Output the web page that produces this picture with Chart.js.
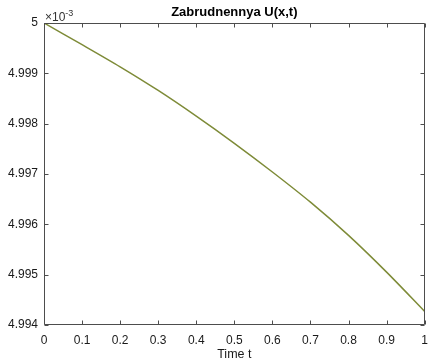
<!DOCTYPE html>
<html>
<head>
<meta charset="utf-8">
<script src="https://cdn.jsdelivr.net/npm/chart.js@4.4.1/dist/chart.umd.min.js"></script>
<style>
  html, body { margin: 0; padding: 0; background: #fff; overflow: hidden; width: 428px; height: 362px; }
  #wrap { width: 436px; height: 362px; }
</style>
</head>
<body>
<div id="wrap"><canvas id="c" width="436" height="362"></canvas></div>
<script>
// Time samples and concentration U (in units of 1e-3)
const timeT = [0, 0.1, 0.2, 0.3, 0.4, 0.5, 0.6, 0.7, 0.8, 0.9, 1.0];
const concentration = [5.00000, 4.99957, 4.99913, 4.99866, 4.99815, 4.99761, 4.99704, 4.99644, 4.99578, 4.99505, 4.99427];

// Axis ticks
const xTicks = [0, 0.1, 0.2, 0.3, 0.4, 0.5, 0.6, 0.7, 0.8, 0.9, 1];
const yTicks = [4.994, 4.995, 4.996, 4.997, 4.998, 4.999, 5];
const yExponent = '-3';

const FONT = "'Liberation Sans', Arial, Helvetica, sans-serif";
const AXIS_COLOR = '#4d4d4d';
const TEXT_COLOR = '#1a1a1a';

const points = timeT.map((t, i) => ({ x: t, y: concentration[i] }));

function fmt(v) { return String(Number(v.toFixed(3))); }

// Boxed axes with inward ticks on all four sides, plus the y exponent label
const boxAxes = {
  id: 'boxAxes',
  afterDraw(chart) {
    const { ctx, chartArea: a, scales } = chart;
    const L = Math.round(a.left) + 0.5, R = Math.round(a.right) - 0.5;
    const T = Math.round(a.top) + 0.5, B = Math.round(a.bottom) - 0.5;
    const len = 4;
    ctx.save();
    ctx.strokeStyle = AXIS_COLOR;
    ctx.lineWidth = 1;
    ctx.beginPath();
    ctx.rect(L, T, R - L, B - T);
    scales.x.ticks.forEach(tk => {
      const px = Math.round(scales.x.getPixelForValue(tk.value)) + 0.5;
      ctx.moveTo(px, B); ctx.lineTo(px, B - len);
      ctx.moveTo(px, T); ctx.lineTo(px, T + len);
    });
    scales.y.ticks.forEach(tk => {
      const py = Math.round(scales.y.getPixelForValue(tk.value)) + 0.5;
      ctx.moveTo(L, py); ctx.lineTo(L + len, py);
      ctx.moveTo(R, py); ctx.lineTo(R - len, py);
    });
    ctx.stroke();

    // ×10^-3 multiplier above the y axis
    ctx.fillStyle = '#333';
    ctx.textBaseline = 'alphabetic';
    ctx.textAlign = 'left';
    ctx.font = '12px ' + FONT;
    const base = '\u00d710';
    ctx.fillText(base, a.left + 1, a.top - 2);
    const w = ctx.measureText(base).width;
    ctx.font = '9px ' + FONT;
    ctx.fillText(yExponent, a.left + 1 + w, a.top - 7.5);
    ctx.restore();
  }
};

new Chart(document.getElementById('c'), {
  type: 'line',
  data: {
    datasets: [{
      data: points,
      borderColor: '#7e8b38',
      borderWidth: 1.5,
      pointRadius: 0,
      tension: 0.3,
      fill: false
    }]
  },
  options: {
    responsive: false,
    devicePixelRatio: 1,
    animation: false,
    layout: { padding: { left: 0, right: 8.6, top: 0, bottom: 0 } },
    plugins: {
      legend: { display: false },
      tooltip: { enabled: false },
      title: {
        display: true,
        text: 'Zabrudnennya U(x,t)',
        fullSize: false,
        color: '#000',
        font: { family: FONT, size: 13, weight: 'bold', lineHeight: 1.2 },
        padding: { top: 5, bottom: 2.4 }
      }
    },
    scales: {
      x: {
        type: 'linear',
        min: 0, max: 1,
        afterBuildTicks: s => { s.ticks = xTicks.map(v => ({ value: v })); },
        afterFit: s => { s.height = 37; },
        grid: { display: false, drawTicks: false },
        border: { display: false },
        ticks: {
          color: TEXT_COLOR,
          font: { family: FONT, size: 12 },
          padding: 8,
          maxRotation: 0,
          autoSkip: false,
          callback: v => fmt(v)
        },
        title: {
          display: true,
          text: 'Time t',
          color: TEXT_COLOR,
          font: { family: FONT, size: 12.5, lineHeight: 1.2 },
          padding: { top: 0, bottom: 0 }
        }
      },
      y: {
        type: 'linear',
        min: 4.994, max: 5,
        afterBuildTicks: s => { s.ticks = yTicks.map(v => ({ value: v })); },
        afterFit: s => { s.width = 44; },
        grid: { display: false, drawTicks: false },
        border: { display: false },
        ticks: {
          color: TEXT_COLOR,
          font: { family: FONT, size: 12 },
          padding: 6,
          autoSkip: false,
          callback: v => fmt(v)
        }
      }
    }
  },
  plugins: [boxAxes]
});
</script>
</body>
</html>
